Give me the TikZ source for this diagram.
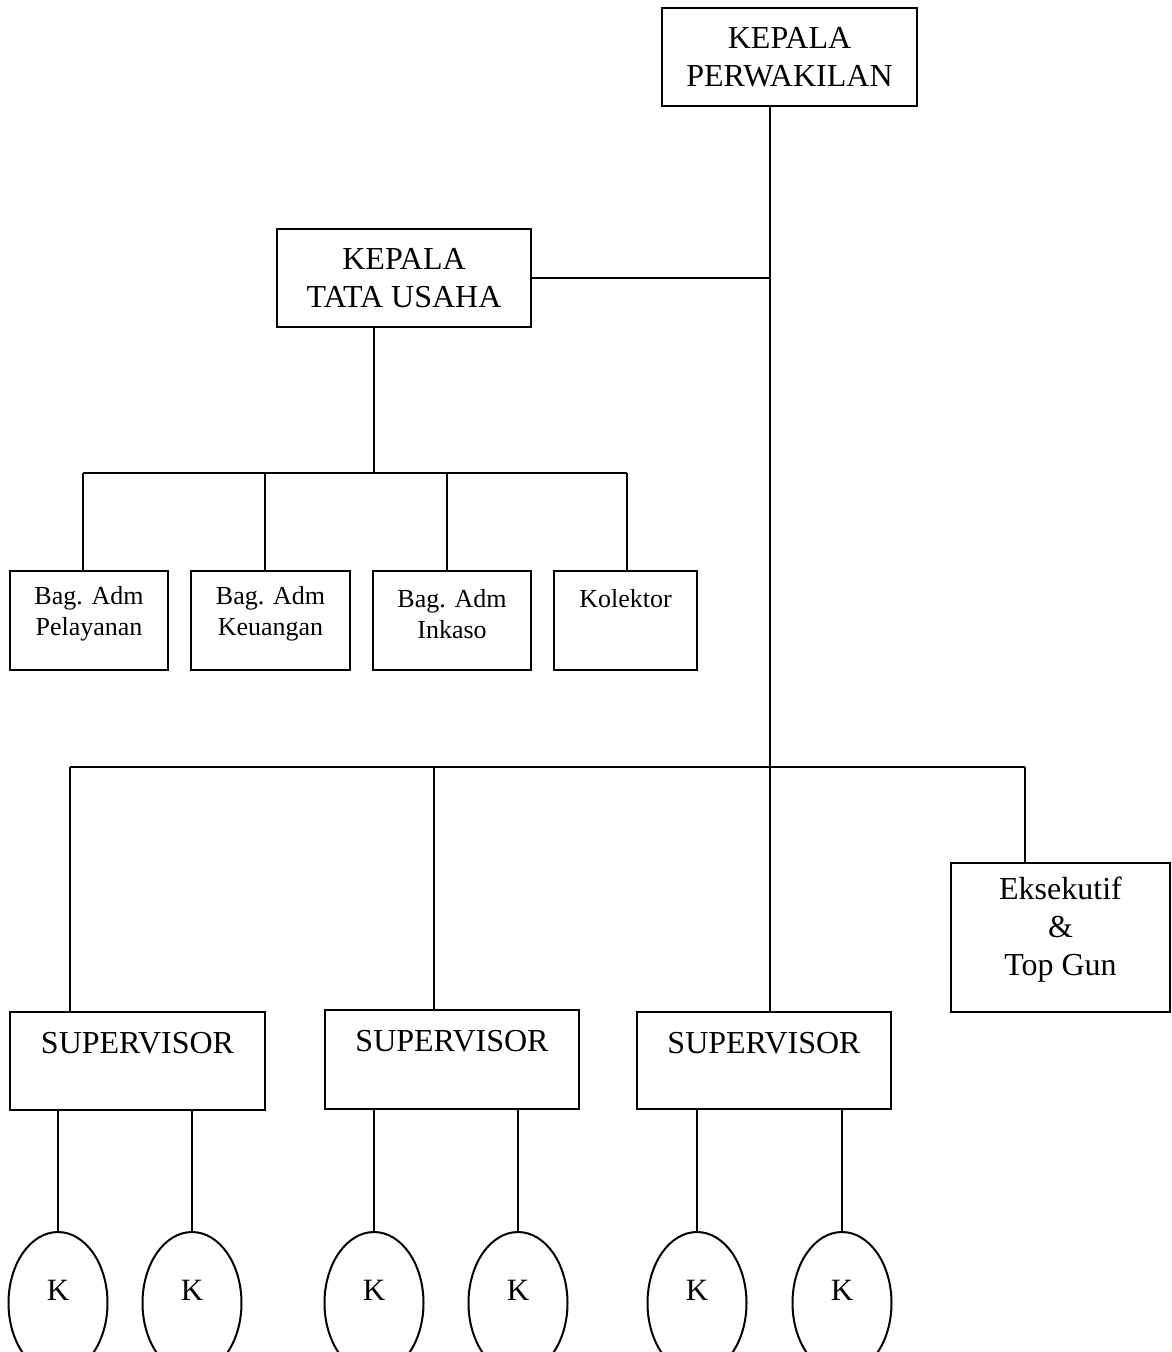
\documentclass[tikz,border=0pt]{standalone}
\usepackage{fontspec}
\setmainfont{Liberation Serif}
\usetikzlibrary{shapes.geometric}
\begin{document}
\begin{tikzpicture}[x=1pt,y=-1pt,
  box/.style={draw, line width=2pt, inner sep=0pt},
  big/.style={font=\fontsize{32}{38}\selectfont, align=center, inner sep=0pt},
  small/.style={font=\fontsize{26}{31}\selectfont, align=center, inner sep=0pt},
  conn/.style={line width=2pt},
  kk/.style={draw, ellipse, line width=2pt, minimum width=99pt, minimum height=142pt, inner sep=0pt, font=\fontsize{31}{36}\selectfont, text depth=26pt}]
\useasboundingbox (0,0) rectangle (1172,1352);
\fill[white] (0,0) rectangle (1172,1352);
% boxes
\node[box, minimum width=255pt, minimum height=98pt] (kp) at (789.5,57) {};
\node[big] (kpt) at (kp) {KEPALA\\PERWAKILAN};
\node[box, minimum width=254pt, minimum height=98pt] (ktu) at (404,278) {};
\node[big] (ktut) at (ktu) {KEPALA\\TATA USAHA};
\node[box, minimum width=158pt, minimum height=99pt] (b1) at (89,620.5) {};
\node[box, minimum width=159pt, minimum height=99pt] (b2) at (270.5,620.5) {};
\node[box, minimum width=158pt, minimum height=99pt] (b3) at (452,620.5) {};
\node[box, minimum width=143pt, minimum height=99pt] (b4) at (625.5,620.5) {};
\node[small] (b1t) at ([yshift=-44pt]b1.north) {Bag. Adm\\Pelayanan};
\node[small] (b2t) at ([yshift=-44pt]b2.north) {Bag. Adm\\Keuangan};
\node[small] (b3t) at ([yshift=-44pt]b3.north) {Bag. Adm\\Inkaso};
\node[small] (b4t) at ([yshift=-29pt]b4.north) {Kolektor};
\node[box, minimum width=219pt, minimum height=149pt] (eks) at (1060.5,937.5) {};
\node[big] (ekst) at ([yshift=-68pt]eks.north) {Eksekutif\\\&\\Top Gun};
\node[box, minimum width=255pt, minimum height=98pt] (sup1) at (137.5,1061) {};
\node[box, minimum width=254pt, minimum height=99pt] (sup2) at (452,1059.5) {};
\node[box, minimum width=254pt, minimum height=97pt] (sup3) at (764,1060.5) {};
\node[big] (sup1t) at ([yshift=-32pt]sup1.north) {SUPERVISOR};
\node[big] (sup2t) at ([yshift=-32pt]sup2.north) {SUPERVISOR};
\node[big] (sup3t) at ([yshift=-32pt]sup3.north) {SUPERVISOR};
% K ellipses
\node[kk] (k1) at (58,1303) {K};
\node[kk] (k2) at (192,1303) {K};
\node[kk] (k3) at (374,1303) {K};
\node[kk] (k4) at (518,1303) {K};
\node[kk] (k5) at (697,1303) {K};
\node[kk] (k6) at (842,1303) {K};
% helper coordinates
\coordinate (trunk) at (770,0);
\coordinate (ktudrop) at (374,0);
\coordinate (bar1) at (0,473);
\coordinate (d1) at (83,0);
\coordinate (d2) at (265,0);
\coordinate (d3) at (447,0);
\coordinate (d4) at (627,0);
\coordinate (bar2) at (0,767);
\coordinate (e1) at (70,0);
\coordinate (e2) at (434,0);
\coordinate (e4) at (1025,0);
% connectors
\draw[conn] (kp.south -| trunk) -- (sup3.north -| trunk);
\draw[conn] (ktu.east) -- (ktu.east -| trunk);
\draw[conn] (ktu.south -| ktudrop) -- (bar1 -| ktudrop);
\draw[conn] (bar1 -| d1) -- (bar1 -| d4);
\draw[conn] (bar1 -| d1) -- (b1.north -| d1);
\draw[conn] (bar1 -| d2) -- (b2.north -| d2);
\draw[conn] (bar1 -| d3) -- (b3.north -| d3);
\draw[conn] (bar1 -| d4) -- (b4.north -| d4);
\draw[conn] (bar2 -| e1) -- (bar2 -| e4);
\draw[conn] (bar2 -| e1) -- (sup1.north -| e1);
\draw[conn] (bar2 -| e2) -- (sup2.north -| e2);
\draw[conn] (bar2 -| e4) -- (eks.north -| e4);
\draw[conn] (sup1.south -| k1) -- (k1.north);
\draw[conn] (sup1.south -| k2) -- (k2.north);
\draw[conn] (sup2.south -| k3) -- (k3.north);
\draw[conn] (sup2.south -| k4) -- (k4.north);
\draw[conn] (sup3.south -| k5) -- (k5.north);
\draw[conn] (sup3.south -| k6) -- (k6.north);
\end{tikzpicture}
\end{document}
